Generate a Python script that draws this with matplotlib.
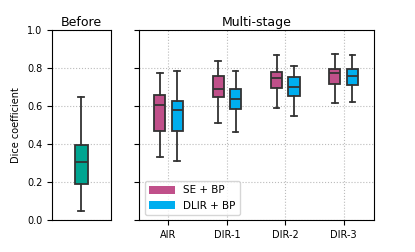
import numpy as np
import matplotlib.pyplot as plt
from matplotlib.patches import Patch

# Box statistics: (whislo, q1, med, q3, whishi)
before_stats = [0.05, 0.19, 0.307, 0.395, 0.65]

stages = ["AIR", "DIR-1", "DIR-2", "DIR-3"]
se_bp = [
    [0.33, 0.47, 0.604, 0.658, 0.772],
    [0.509, 0.647, 0.689, 0.756, 0.837],
    [0.588, 0.696, 0.746, 0.777, 0.868],
    [0.614, 0.714, 0.772, 0.793, 0.872],
]
dlir_bp = [
    [0.312, 0.47, 0.579, 0.628, 0.786],
    [0.463, 0.584, 0.635, 0.691, 0.786],
    [0.546, 0.651, 0.698, 0.751, 0.81],
    [0.621, 0.709, 0.756, 0.793, 0.867],
]

c_before = "#00A591"
c_se = "#C0508A"
c_dlir = "#00AEEF"
edge = "#333333"


def to_bxp(s, label=""):
    return {"whislo": s[0], "q1": s[1], "med": s[2], "q3": s[3],
            "whishi": s[4], "fliers": [], "label": label}


def draw(ax, stats, positions, width, color):
    ax.bxp(
        [to_bxp(s) for s in stats],
        positions=positions, widths=width, patch_artist=True,
        showfliers=False,
        boxprops=dict(facecolor=color, edgecolor=edge, linewidth=1.3),
        medianprops=dict(color=edge, linewidth=1.3),
        whiskerprops=dict(color=edge, linewidth=1.3),
        capprops=dict(color=edge, linewidth=1.3),
        manage_ticks=False,
    )


plt.rcParams["font.size"] = 7
fig = plt.figure(figsize=(4.15, 2.52), dpi=100)
ax1 = fig.add_axes([52 / 415, 32 / 252, 58.5 / 415, 190 / 252])
ax2 = fig.add_axes([139.3 / 415, 32 / 252, 234.7 / 415, 190 / 252])

draw(ax1, [before_stats], [0], 0.22, c_before)
ax1.set_xlim(-0.5, 0.5)
ax1.set_xticks([])
ax1.set_ylim(0, 1)
ax1.set_yticks(np.arange(0, 1.01, 0.2))
ax1.yaxis.grid(True, linestyle=":", color="#bbbbbb", linewidth=0.8)
ax1.set_axisbelow(True)
ax1.set_ylabel("Dice coefficient", fontsize=7)
ax1.set_title("Before", fontsize=9, pad=3)

x = np.arange(len(stages))
draw(ax2, se_bp, x - 0.15, 0.19, c_se)
draw(ax2, dlir_bp, x + 0.15, 0.19, c_dlir)
ax2.set_xlim(-0.5, 3.52)
ax2.set_ylim(0, 1)
ax2.set_yticks(np.arange(0, 1.01, 0.2))
ax2.set_yticklabels([])
ax2.set_xticks(x)
ax2.set_xticklabels(stages)
ax2.grid(True, linestyle=":", color="#bbbbbb", linewidth=0.8)
ax2.set_axisbelow(True)
ax2.set_title("Multi-stage", fontsize=9, pad=3)

handles = [Patch(facecolor=c_se, label="SE + BP"),
           Patch(facecolor=c_dlir, label="DLIR + BP")]
ax2.legend(handles=handles, loc="lower left", fontsize=7.5,
           handlelength=2.5, handleheight=0.8)

fig.savefig("out.png", dpi=100)
